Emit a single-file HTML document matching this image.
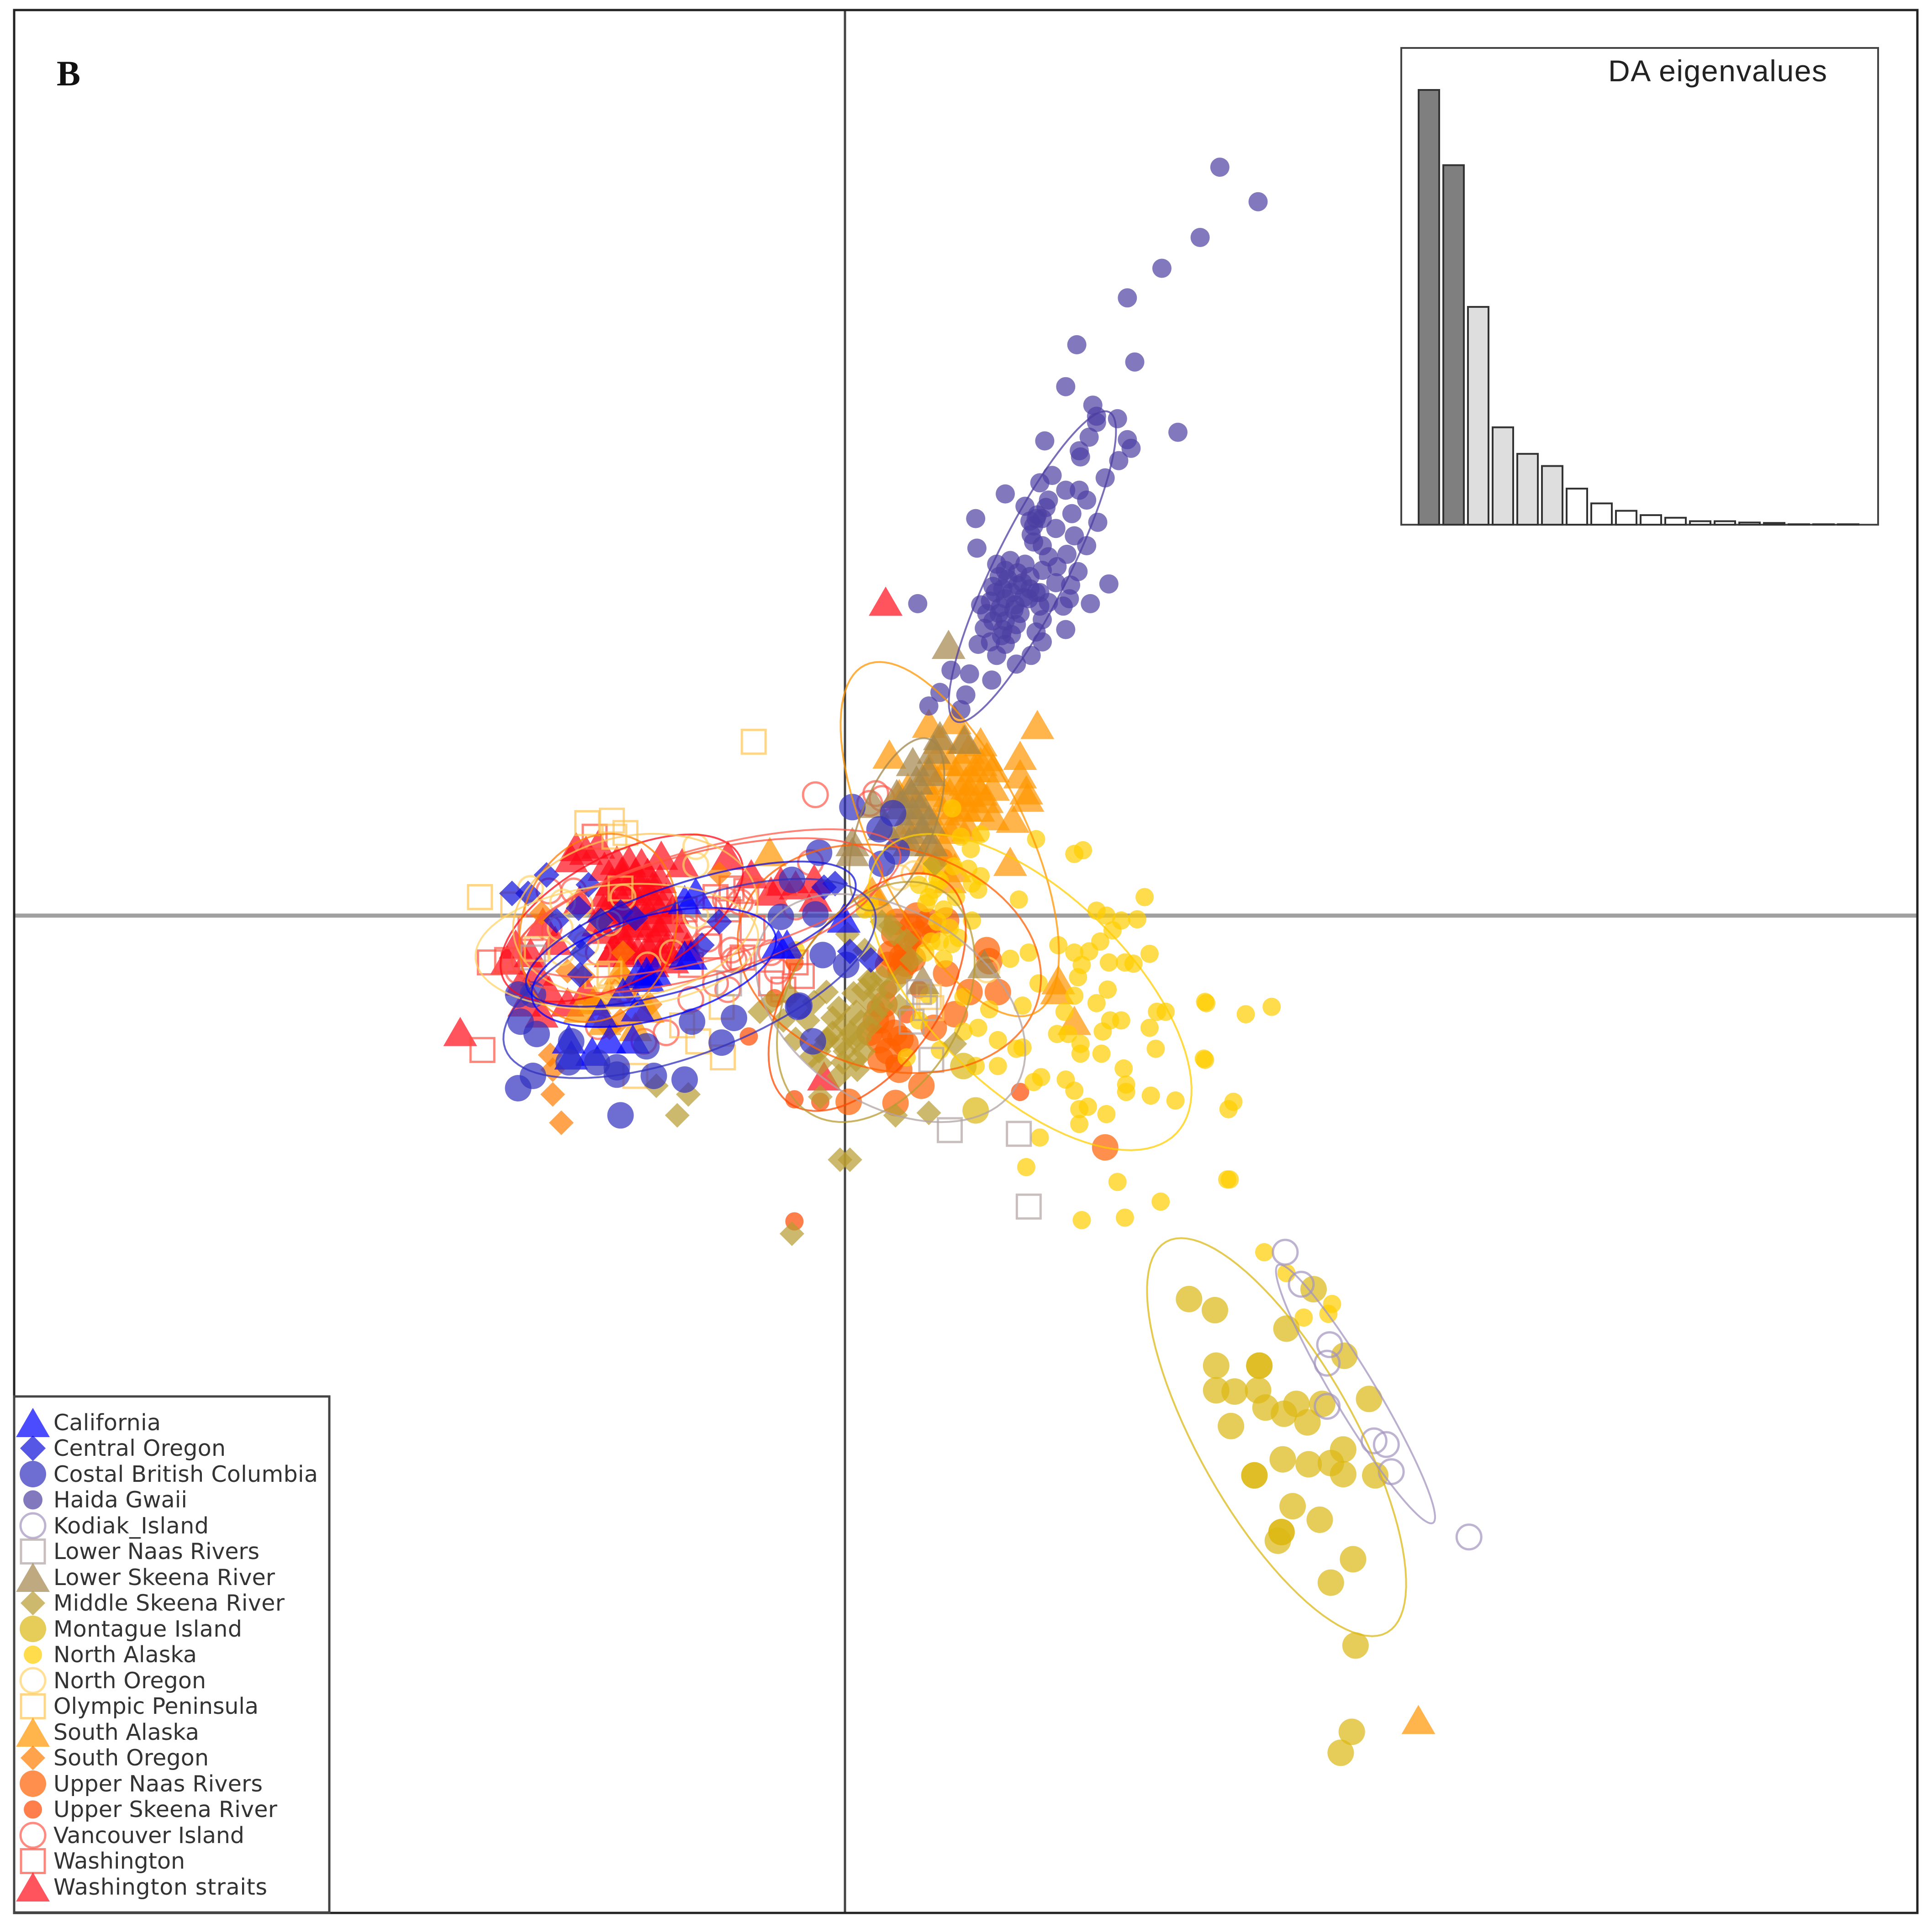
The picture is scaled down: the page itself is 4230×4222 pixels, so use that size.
<!DOCTYPE html>
<html lang="en">
<head>
<meta charset="utf-8">
<title>DAPC scatter plot</title>
<style>
html,body{margin:0;padding:0;background:#fff;}
svg{display:block;}
.legend-text{font-family:"DejaVu Sans",sans-serif;font-size:49px;fill:#333;}
</style>
</head>
<body>
<svg id="chart" xmlns="http://www.w3.org/2000/svg" width="4230" height="4222" viewBox="0 0 4230 4222">
  <rect x="0" y="0" width="4230" height="4222" fill="#fff"/>
  <line x1="32" x2="4198" y1="2005" y2="2005" stroke="#a0a0a0" stroke-width="9"/>
  <line x1="1850" x2="1850" y1="22" y2="4190" stroke="#444" stroke-width="5"/>
  <g id="points"></g>
  <g id="ellipses"></g>
  <rect x="31" y="22" width="4167" height="4167" fill="none" stroke="#222" stroke-width="5"/>
  <text x="124" y="187" font-family="'Liberation Serif',serif" font-weight="bold" font-size="78" fill="#111">B</text>

  <g>
    <rect x="3068" y="105" width="1044" height="1044" fill="#fff" stroke="#444" stroke-width="4"/>
    <g id="eigenbars"></g>
    <text x="3521" y="178" font-family="'Liberation Sans',sans-serif" font-size="66" fill="#222" textLength="479">DA eigenvalues</text>
  </g>

  <g id="legend">
    <rect x="31" y="3058" width="690" height="1130" fill="#fff" stroke="#444" stroke-width="5"/>
    <g class="entry"><text class="legend-text" x="117" y="3132" textLength="235">California</text></g>
    <g class="entry"><text class="legend-text" x="117" y="3188" textLength="377">Central Oregon</text></g>
    <g class="entry"><text class="legend-text" x="117" y="3245" textLength="579">Costal British Columbia</text></g>
    <g class="entry"><text class="legend-text" x="117" y="3301" textLength="293">Haida Gwaii</text></g>
    <g class="entry"><text class="legend-text" x="117" y="3358" textLength="340">Kodiak_Island</text></g>
    <g class="entry"><text class="legend-text" x="117" y="3414" textLength="451">Lower Naas Rivers</text></g>
    <g class="entry"><text class="legend-text" x="117" y="3471" textLength="485">Lower Skeena River</text></g>
    <g class="entry"><text class="legend-text" x="117" y="3527" textLength="506">Middle Skeena River</text></g>
    <g class="entry"><text class="legend-text" x="117" y="3584" textLength="413">Montague Island</text></g>
    <g class="entry"><text class="legend-text" x="117" y="3640" textLength="314">North Alaska</text></g>
    <g class="entry"><text class="legend-text" x="117" y="3697" textLength="334">North Oregon</text></g>
    <g class="entry"><text class="legend-text" x="117" y="3753" textLength="449">Olympic Peninsula</text></g>
    <g class="entry"><text class="legend-text" x="117" y="3810" textLength="319">South Alaska</text></g>
    <g class="entry"><text class="legend-text" x="117" y="3866" textLength="340">South Oregon</text></g>
    <g class="entry"><text class="legend-text" x="117" y="3923" textLength="458">Upper Naas Rivers</text></g>
    <g class="entry"><text class="legend-text" x="117" y="3979" textLength="490">Upper Skeena River</text></g>
    <g class="entry"><text class="legend-text" x="117" y="4036" textLength="418">Vancouver Island</text></g>
    <g class="entry"><text class="legend-text" x="117" y="4092" textLength="288">Washington</text></g>
    <g class="entry"><text class="legend-text" x="117" y="4149" textLength="468">Washington straits</text></g>
  </g>
</svg>
<script>
// Discriminant scores, one small array per population: [LD1, LD2]
const california = [[-1,-2],[-161,-45],[-154,-45],[-168,-47],[-47,-23],[-54,-23],[-224,-100],[-191,-100],[-172,-100],[-222,-113],[-130,-32],[-125,-32],[-180,-62],[-198,-79],[-168,-74],[-130,13],[-121,19],[-160,-50],[-205,-110]];
const centralOregon = [[-242,33],[-270,18],[-257,18],[-208,25],[-216,6],[-234,-4],[-198,-4],[-170,-2],[-182,3],[-215,-17],[-215,-48],[-116,-24],[-102,-5],[-213,-30],[-17,23],[21,-36],[4,-29],[-8,26]];
const costalBritishColumbia = [[-21,51],[-52,-1],[-24,1],[-18,-32],[1,-40],[-124,-86],[-90,-83],[-100,-103],[-38,-74],[-26,-102],[6,88],[28,70],[-182,-162],[-130,-133],[-155,-130],[-161,-106],[-185,-129],[-185,-123],[-201,-119],[-224,-119],[-253,-130],[-265,-140],[-263,-86],[-250,-96],[-265,-64],[-222,-102],[-253,-64],[42,52],[30,42],[-37,-73],[-43,29],[39,83]];
const haidaGwaii = [[123,285],[134,288],[146,285],[132,273],[144,270],[120,267],[130,257],[149,257],[137,248],[158,251],[165,254],[120,239],[130,239],[139,236],[127,227],[113,233],[108,220],[123,211],[130,220],[153,316],[156,325],[151,309],[163,331],[165,337],[146,332],[158,351],[168,357],[179,345],[190,345],[196,337],[184,326],[171,314],[186,308],[196,300],[205,319],[180,293],[189,279],[165,291],[172,283],[160,280],[171,270],[183,268],[182,257],[177,251],[160,240],[155,230],[160,222],[151,211],[139,204],[119,191],[101,196],[86,199],[98,179],[77,181],[68,170],[94,167],[211,355],[222,369],[232,379],[229,386],[198,388],[190,377],[191,372],[204,400],[201,414],[204,405],[221,403],[162,385],[130,342],[106,322],[107,298],[59,253],[110,252],[199,253],[214,269],[179,232],[270,392],[235,449],[179,429],[188,463],[229,501],[257,525],[288,550],[304,607],[335,579],[125,275],[140,278],[128,265],[150,265],[118,255],[142,245],[155,262],[125,245],[160,300],[155,322],[135,262],[145,258],[130,280],[122,262],[138,252],[150,275],[128,232],[118,222],[135,228],[150,320],[160,322],[153,303],[140,268],[126,250],[115,245],[158,262]];
const kodiakIsland = [[357,-273],[370,-299],[393,-348],[391,-363],[391,-398],[429,-426],[439,-429],[443,-451],[506,-504]];
const lowerNaasRivers = [[85,-174],[141,-177],[149,-236],[65,-75],[60,-62],[-94,-55],[-253,-34],[54,-86],[70,-117]];
const lowerSkeenaRiver = [[84,220],[77,146],[97,143],[68,117],[55,125],[54,99],[68,78],[70,60],[6,60],[23,91],[113,-39],[63,-52],[32,73],[6,52],[42,99],[72,135],[58,110],[62,90],[55,85],[48,75],[52,60],[62,70],[45,90]];
const middleSkeenaRiver = [[-4,-198],[4,-198],[-43,-258],[-136,-162],[-127,-145],[-153,-138],[41,-162],[68,-160],[-20,-147],[89,-104],[9,-117],[-15,-101],[-1,-88],[13,-86],[-3,-104],[20,-52],[37,-8],[16,-28],[2,-15],[25,-62],[30,-73],[44,-73],[54,-36],[73,42],[-27,-114],[9,-78],[-10,-83],[-69,-78],[-14,-100],[7,-100],[21,-53],[7,-63],[-21,-110],[-2,-119],[-10,-95],[0,-110],[12,-100],[20,-90],[-20,-120],[5,-95],[15,-110],[-5,-75],[25,-80],[35,-60],[30,-50],[45,-50],[40,-15],[30,-5],[50,-20],[-30,-85],[-40,-100],[-25,-70],[-50,-85],[-60,-70],[-45,-65],[-5,-130],[10,-125],[20,-70],[15,-60],[-15,-62]];
const montagueIsland = [[279,-311],[300,-320],[358,-335],[380,-303],[405,-357],[301,-365],[336,-365],[336,-365],[301,-385],[316,-386],[335,-385],[341,-399],[356,-404],[366,-396],[387,-396],[375,-411],[425,-392],[313,-414],[355,-441],[376,-445],[394,-444],[404,-433],[404,-453],[430,-454],[332,-454],[332,-454],[363,-479],[385,-490],[354,-500],[354,-500],[351,-507],[412,-522],[394,-541],[414,-592],[411,-662],[402,-679],[106,-158],[96,-122]];
const northAlaska = [[340,-273],[358,-290],[395,-315],[392,-323],[372,-326],[155,62],[186,50],[193,53],[102,54],[94,64],[110,66],[110,32],[141,13],[243,15],[103,26],[77,28],[108,21],[87,87],[103,-4],[68,15],[72,21],[204,4],[212,0],[224,-4],[237,-3],[217,-12],[173,-24],[186,-30],[198,-29],[207,-21],[192,-40],[149,-30],[134,-35],[189,-50],[214,-38],[227,-38],[234,-39],[247,-31],[213,-60],[157,-55],[186,-65],[204,-71],[144,-73],[117,-76],[178,-78],[215,-85],[224,-85],[209,-94],[172,-96],[181,-96],[191,-104],[191,-112],[208,-112],[247,-91],[253,-78],[260,-78],[252,-108],[292,-70],[291,-116],[108,-91],[96,-94],[124,-101],[139,-108],[144,-107],[124,-122],[106,-122],[77,-109],[96,-66],[159,-131],[153,-135],[179,-133],[186,-142],[226,-124],[228,-137],[228,-143],[248,-146],[268,-150],[197,-155],[190,-157],[212,-161],[190,-169],[158,-180],[147,-204],[221,-216],[256,-232],[227,-245],[192,-247],[310,-214],[312,-214],[293,-71],[325,-80],[346,-74],[292,-117],[315,-151],[311,-157],[66,10],[77,-21],[70,-21],[87,-23],[20,10],[16,5],[68,-65],[-40,-28],[75,-5],[85,-10],[80,5],[90,15],[75,30],[60,25],[65,-30],[80,-35],[88,40],[100,38],[70,40],[92,-18],[60,-85],[50,-115]];
const northOregon = [[-121,56],[-121,41],[-121,0],[-191,-6],[-215,9],[-229,11],[-255,22],[-231,-10],[-210,-23],[-190,-60],[-160,-40],[-230,-30],[-180,15],[-140,-30],[115,-44],[56,34],[44,31]];
const olympicPeninsula = [[-74,141],[-296,15],[-209,75],[-189,77],[-178,67],[-187,64],[-132,-89],[-99,-115],[-119,-102],[-100,-74],[-170,-130],[-269,9],[-191,-47],[-250,-27],[-201,-49],[-182,22],[68,-66],[70,-75]];
const southAlaska = [[156,155],[36,131],[142,130],[68,156],[89,159],[110,141],[115,129],[142,115],[147,102],[148,96],[136,79],[120,81],[134,44],[98,109],[110,101],[96,96],[89,112],[98,88],[108,88],[72,96],[51,104],[68,120],[44,99],[96,143],[77,143],[72,76],[91,76],[58,78],[80,57],[89,39],[173,-52],[172,-60],[186,-85],[-61,52],[465,-652],[-182,-44],[-203,-68],[-191,-63],[-160,-75],[75,130],[85,125],[95,125],[105,120],[120,120],[100,135],[110,125],[85,100],[90,90],[100,100],[115,95],[120,105],[105,110],[75,110],[60,90],[65,105],[80,85],[55,65],[70,60],[85,70],[100,72],[65,45],[75,45],[85,30],[45,65],[22,20],[28,12],[-195,-85],[-170,-90],[-215,-75]];
const southOregon = [[-237,-145],[-230,-168],[-180,-30],[-191,-91],[-239,-113],[-237,-125],[-180,-49],[-205,-70],[-158,-72],[-182,-85],[-246,2],[-102,34],[-212,-49],[-198,-5],[-175,-60],[-225,-45]];
const upperNaasRivers = [[211,-188],[124,-62],[117,-37],[82,-4],[58,0],[68,-5],[46,-34],[82,-47],[101,-62],[28,-101],[49,-104],[29,-117],[89,-80],[72,-91],[62,-138],[41,-152],[3,-151],[44,-125],[32,-72],[54,-10],[37,-31],[49,-39],[115,-28],[40,-15],[50,-25],[35,-40],[45,-45],[60,-15],[55,-35],[42,-5],[30,-85],[40,-95],[35,-110],[25,-85],[45,-100],[20,-95]];
const upperSkeenaRiver = [[-78,-98],[-41,-149],[-20,-151],[142,-143],[-41,-248],[80,47],[-41,-38],[-57,-67],[70,-15],[55,-20],[45,-35],[60,-60],[35,-60],[25,-75],[40,-120],[50,-80]];
const vancouverIsland = [[-24,98],[25,99],[20,91],[30,95],[-90,-36],[-92,-28],[-86,-36],[-111,-19],[-125,-68],[-28,43],[-163,-102],[-200,-90],[-40,7],[-97,13],[-85,11],[-73,22],[-110,5],[-240,-10],[-200,-30],[-180,-60],[-220,20],[-240,20],[-60,-30],[-55,-45],[-105,-55],[-95,-60],[-130,-10],[-265,-45],[-145,-95]];
const washington = [[-294,-109],[-288,-38],[-274,-36],[-203,64],[-80,20],[-92,22],[-83,-34],[-125,-40],[-40,-38],[-35,-49],[-105,15],[-130,5],[-255,-10],[-75,-10],[-60,-55],[-95,5],[-110,-25],[-50,-60]];
const washingtonStraits = [[-218,56],[-210,53],[-200,58],[-222,47],[-165,43],[-149,49],[-132,43],[-95,49],[-76,34],[-52,28],[-24,15],[-181,36],[-180,32],[-189,28],[-168,28],[-194,19],[-156,24],[-182,15],[-168,13],[-196,6],[-154,11],[-182,2],[-144,-2],[-132,-15],[-168,-6],[-128,-25],[-154,-19],[-182,-15],[-196,-11],[-168,-28],[-187,-25],[-262,-53],[-267,-23],[-246,-79],[-312,-94],[-17,-130],[-156,-38],[-215,13],[33,255],[-274,-36],[-175,22],[-160,5],[-175,-8],[-150,-10],[-190,10],[-200,-5],[-160,-25],[-170,35],[-178,-20],[-195,40],[-185,45],[-175,45],[-160,35],[-150,30],[-145,15],[-140,5],[-160,20],[-185,5],[-170,0],[-155,-5],[-190,-30],[-175,-30],[-145,-25],[-140,-35],[-150,-30],[-255,-30],[-250,-45],[-240,-60],[-235,-20],[-245,-5],[-210,-60],[-225,-70],[-260,-70],[-25,30],[-40,25],[-60,20]];

// Group ellipses: centre, semi-axes and tilt in degrees, in legend order
const ellipseCenterX = [-155,-125,-126,152,414,37,42,25,350,150,-185,-170,85,-200,36,18,-110,-120,-181];
const ellipseCenterY = [-42,-15,-51,283,-388,-75,74,-70,-423,-62,-25,0,62,-10,-35,-62,10,0,-2];
const ellipseMajor = [102,140,160,140,122,120,74,105,182,165,115,100,157,78,125,110,160,155,108];
const ellipseMinor = [42,42,61,30,17,78,30,70,63,80,50,65,62,62,90,60,45,50,51];
const ellipseTilt = [15,18,21,63.6,-59,-33,69,60,-60.5,-44,5,10,-64,70,-15,55,15,15,28];

// DA eigenvalues, largest first
const eigenvalues = [100,82.7,50.1,22.4,16.3,13.5,8.3,4.9,3.2,2.2,1.6,0.8,0.8,0.5,0.4,0.1,0.1,0.1];
const retainedEigen = 2;
const highlightedEigen = 6;

const groupSlugs = ['california','central-oregon','costal-british-columbia','haida-gwaii','kodiak-island','lower-naas-rivers','lower-skeena-river','middle-skeena-river','montague-island','north-alaska','north-oregon','olympic-peninsula','south-alaska','south-oregon','upper-naas-rivers','upper-skeena-river','vancouver-island','washington','washington-straits'];
const groupSeries = [california,centralOregon,costalBritishColumbia,haidaGwaii,kodiakIsland,lowerNaasRivers,lowerSkeenaRiver,middleSkeenaRiver,montagueIsland,northAlaska,northOregon,olympicPeninsula,southAlaska,southOregon,upperNaasRivers,upperSkeenaRiver,vancouverIsland,washington,washingtonStraits];
const groupColors = ['#0000ff','#1010da','#3030bf','#4c3ea2','#a394be','#b1a3a3','#a2854c','#b89b30','#dbb813','#ffcd00','#ffd366','#ffc455','#ff9500','#ff7c00','#ff6000','#ff4800','#ff5a4a','#ff5040','#ff0a18'];
const groupShapes = ['tri','dia','circ','circ','ring','sq','tri','dia','circ','circ','ring','sq','tri','dia','circ','circ','ring','sq','tri'];
const groupSizes = [1,1.04,29,21,27,1,1,1,29,20,27,1,1,1,29,20,27,1,1];
const drawOrder = [18,17,16,15,14,13,12,11,10,9,8,7,6,5,4,3,0,2,1];

const SVGNS = 'http://www.w3.org/2000/svg';
const pxPerUnit = 2.7;
const xScale = v => 1850 + v * pxPerUnit;
const yScale = v => 2005 - v * pxPerUnit;

function makeMark(shape, size, color, cx, cy) {
  let el;
  if (shape === 'circ' || shape === 'ring') {
    el = document.createElementNS(SVGNS, 'circle');
    el.setAttribute('cx', cx);
    el.setAttribute('cy', cy);
    el.setAttribute('r', size);
  } else if (shape === 'sq') {
    el = document.createElementNS(SVGNS, 'rect');
    el.setAttribute('x', cx - 26);
    el.setAttribute('y', cy - 26);
    el.setAttribute('width', 52);
    el.setAttribute('height', 52);
  } else {
    el = document.createElementNS(SVGNS, 'polygon');
    let pts;
    if (shape === 'tri') {
      const hw = 37 * size, hh = 32 * size;
      pts = [[cx, cy - hh], [cx + hw, cy + hh], [cx - hw, cy + hh]];
    } else {
      const r = 27 * size;
      pts = [[cx, cy - r], [cx + r, cy], [cx, cy + r], [cx - r, cy]];
    }
    el.setAttribute('points', pts.map(p => p.join(',')).join(' '));
  }
  if (shape === 'ring' || shape === 'sq') {
    el.setAttribute('fill', 'none');
    el.setAttribute('stroke', color);
    el.setAttribute('stroke-width', 5);
    el.setAttribute('stroke-opacity', 0.7);
  } else {
    el.setAttribute('fill', color);
    el.setAttribute('fill-opacity', 0.7);
  }
  return el;
}

const pointLayer = document.getElementById('points');
drawOrder.forEach(function (g) {
  groupSeries[g].forEach(function (pt) {
    const mark = makeMark(groupShapes[g], groupSizes[g], groupColors[g], xScale(pt[0]), yScale(pt[1]));
    
    
    pointLayer.appendChild(mark);
  });
});

const ellipseLayer = document.getElementById('ellipses');
for (let g = groupSeries.length - 1; g >= 0; g--) {
  const tilt = ellipseTilt[g] * Math.PI / 180;
  let d = '';
  for (let k = 0; k <= 96; k++) {
    const t = k / 96 * 2 * Math.PI;
    const u = ellipseMajor[g] * Math.cos(t);
    const w = ellipseMinor[g] * Math.sin(t);
    const dataX = ellipseCenterX[g] + u * Math.cos(tilt) - w * Math.sin(tilt);
    const dataY = ellipseCenterY[g] + u * Math.sin(tilt) + w * Math.cos(tilt);
    d += (k ? 'L' : 'M') + xScale(dataX).toFixed(1) + ' ' + yScale(dataY).toFixed(1);
  }
  const path = document.createElementNS(SVGNS, 'path');
  path.setAttribute('d', d + 'Z');
  path.setAttribute('fill', 'none');
  path.setAttribute('stroke', groupColors[g]);
  path.setAttribute('stroke-width', 4);
  path.setAttribute('stroke-opacity', 0.75);
  
  
  ellipseLayer.appendChild(path);
}

const barLayer = document.getElementById('eigenbars');
const eigenX = i => 3106 + i * 54;
const eigenY = v => 1149 - v * 9.52;
eigenvalues.forEach(function (value, i) {
  const bar = document.createElementNS(SVGNS, 'rect');
  bar.setAttribute('x', eigenX(i));
  bar.setAttribute('y', eigenY(value));
  bar.setAttribute('width', 45);
  bar.setAttribute('height', 1149 - eigenY(value));
  bar.setAttribute('fill', i < retainedEigen ? '#7f7f7f' : (i < highlightedEigen ? '#dedede' : '#ffffff'));
  bar.setAttribute('stroke', '#333');
  bar.setAttribute('stroke-width', 4);
  
  
  barLayer.appendChild(bar);
});

document.querySelectorAll('#legend .entry').forEach(function (entry, i) {
  const rowY = 3115 + i * 56.5;
  const marker = makeMark(groupShapes[i], groupSizes[i], groupColors[i], 72, rowY);
  
  
  entry.insertBefore(marker, entry.firstChild);
});
</script>
</body>
</html>
